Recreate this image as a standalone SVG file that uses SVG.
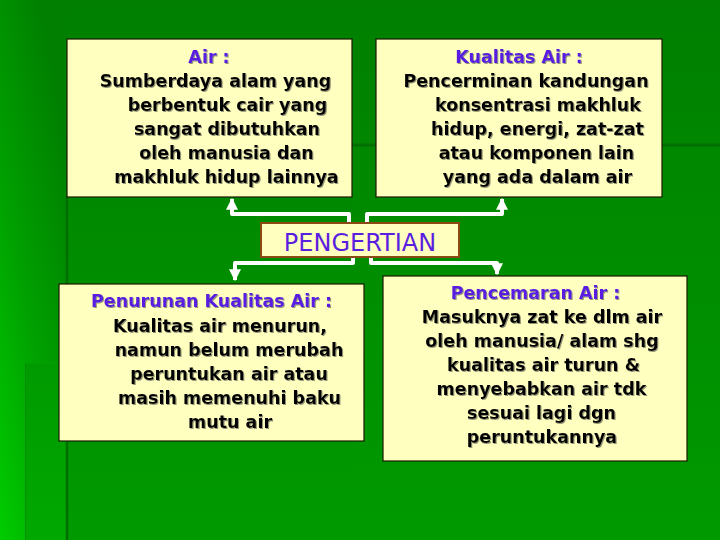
<svg xmlns="http://www.w3.org/2000/svg" width="720" height="540" viewBox="0 0 720 540">
  <defs>
    <linearGradient id="bgMain" x1="0" y1="0" x2="0" y2="1">
      <stop offset="0" stop-color="#007f00"/>
      <stop offset="1" stop-color="#009a00"/>
    </linearGradient>
    <linearGradient id="bgRight" x1="0" y1="0" x2="0" y2="1">
      <stop offset="0" stop-color="#008700"/>
      <stop offset="1" stop-color="#009a00"/>
    </linearGradient>
    <linearGradient id="bgLeft" x1="0.6" y1="0" x2="0" y2="1">
      <stop offset="0" stop-color="#007f00"/>
      <stop offset="0.5" stop-color="#00a000"/>
      <stop offset="1" stop-color="#00cc00"/>
    </linearGradient>
    <linearGradient id="bgLeftLow" x1="0" y1="0" x2="0" y2="1">
      <stop offset="0" stop-color="#009a00"/>
      <stop offset="1" stop-color="#00a800"/>
    </linearGradient>
    <filter id="shadow" x="-5%" y="-20%" width="110%" height="140%">
      <feDropShadow dx="1" dy="1" stdDeviation="0" flood-color="#8a8a70" flood-opacity="0.9"/>
    </filter>
    <marker id="arrow" viewBox="0 0 10 10" refX="9" refY="5" markerWidth="3" markerHeight="3" orient="auto" markerUnits="strokeWidth">
      <path d="M0,0 L10,5 L0,10 z" fill="#ffffff"/>
    </marker>
  </defs>
  <style>
    .box { fill: #ffffbf; stroke: #1a1a00; stroke-width: 1.2; }
    .center { fill: #ffffbf; stroke: #8b4a14; stroke-width: 2; }
    .title { font-family: "DejaVu Sans", Verdana, sans-serif; font-weight: bold; font-size: 17.5px; fill: #5a1ee0; text-anchor: middle; }
    .body { font-family: "DejaVu Sans", Verdana, sans-serif; font-weight: bold; font-size: 17.5px; fill: #000000; text-anchor: middle; }
    .big { font-family: "DejaVu Sans", Verdana, sans-serif; font-size: 24px; fill: #5a1ee0; text-anchor: middle; }
    .conn { fill: none; stroke: #ffffff; stroke-width: 4; stroke-linejoin: round; stroke-linecap: butt; }
  </style>

  <!-- background -->
  <rect x="0" y="0" width="720" height="540" fill="url(#bgMain)"/>
  <rect x="352" y="145" width="368" height="395" fill="url(#bgRight)"/>
  <rect x="0" y="0" width="67" height="540" fill="url(#bgLeft)"/>
  <rect x="25" y="363" width="42" height="177" fill="url(#bgLeftLow)"/>
  <line x1="25" y1="363" x2="67" y2="363" stroke="#00a200" stroke-width="1"/>
  <line x1="25.5" y1="363" x2="25.5" y2="540" stroke="#008f00" stroke-width="1"/>
  <line x1="67" y1="195" x2="67" y2="540" stroke="#006e00" stroke-width="2.5"/>
  <line x1="352" y1="145" x2="720" y2="145" stroke="#006e00" stroke-width="3"/>

  <!-- connectors -->
  <g id="connectors">
    <path class="conn" d="M349,223 V214 H232 V199" marker-end="url(#arrow)"/>
    <path class="conn" d="M367,223 V214 H502 V199" marker-end="url(#arrow)"/>
    <path class="conn" d="M353,257 V263 H235 V280" marker-end="url(#arrow)"/>
    <path class="conn" d="M371,257 V263 H497 V274" marker-end="url(#arrow)"/>
  </g>

  <g id="node-air">
    <rect class="box" x="67" y="39" width="285" height="158"/>
    <g filter="url(#shadow)">
      <text class="title" x="209" y="63">Air :</text>
      <text class="body" x="215.5" y="87">Sumberdaya alam yang</text>
      <text class="body" x="227.5" y="111">berbentuk cair yang</text>
      <text class="body" x="227" y="135">sangat dibutuhkan</text>
      <text class="body" x="226.5" y="159">oleh manusia dan</text>
      <text class="body" x="226.5" y="183">makhluk hidup lainnya</text>
    </g>
  </g>

  <g id="node-kualitas">
    <rect class="box" x="376" y="39" width="286" height="158"/>
    <g filter="url(#shadow)">
      <text class="title" x="519" y="63">Kualitas Air :</text>
      <text class="body" x="526" y="87">Pencerminan kandungan</text>
      <text class="body" x="538" y="111">konsentrasi makhluk</text>
      <text class="body" x="537.5" y="135">hidup, energi, zat-zat</text>
      <text class="body" x="536.5" y="159">atau komponen lain</text>
      <text class="body" x="537.5" y="183">yang ada dalam air</text>
    </g>
  </g>

  <g id="node-pengertian">
    <rect class="center" x="261" y="223" width="198" height="34"/>
    <text class="big" x="360" y="251">PENGERTIAN</text>
  </g>

  <g id="node-penurunan">
    <rect class="box" x="59" y="284" width="305" height="157"/>
    <g filter="url(#shadow)">
      <text class="title" x="211.5" y="307">Penurunan Kualitas Air :</text>
      <text class="body" x="220" y="332">Kualitas air menurun,</text>
      <text class="body" x="229" y="356">namun belum merubah</text>
      <text class="body" x="229" y="380">peruntukan air atau</text>
      <text class="body" x="229.5" y="404">masih memenuhi baku</text>
      <text class="body" x="230" y="428">mutu air</text>
    </g>
  </g>

  <g id="node-pencemaran">
    <rect class="box" x="383" y="276" width="304" height="185"/>
    <g filter="url(#shadow)">
      <text class="title" x="535.5" y="299">Pencemaran Air :</text>
      <text class="body" x="542" y="323">Masuknya zat ke dlm air</text>
      <text class="body" x="542" y="347">oleh manusia/ alam shg</text>
      <text class="body" x="543.5" y="371">kualitas air turun &amp;</text>
      <text class="body" x="541.5" y="395">menyebabkan air tdk</text>
      <text class="body" x="541.5" y="419">sesuai lagi dgn</text>
      <text class="body" x="542" y="443">peruntukannya</text>
    </g>
  </g>
</svg>
